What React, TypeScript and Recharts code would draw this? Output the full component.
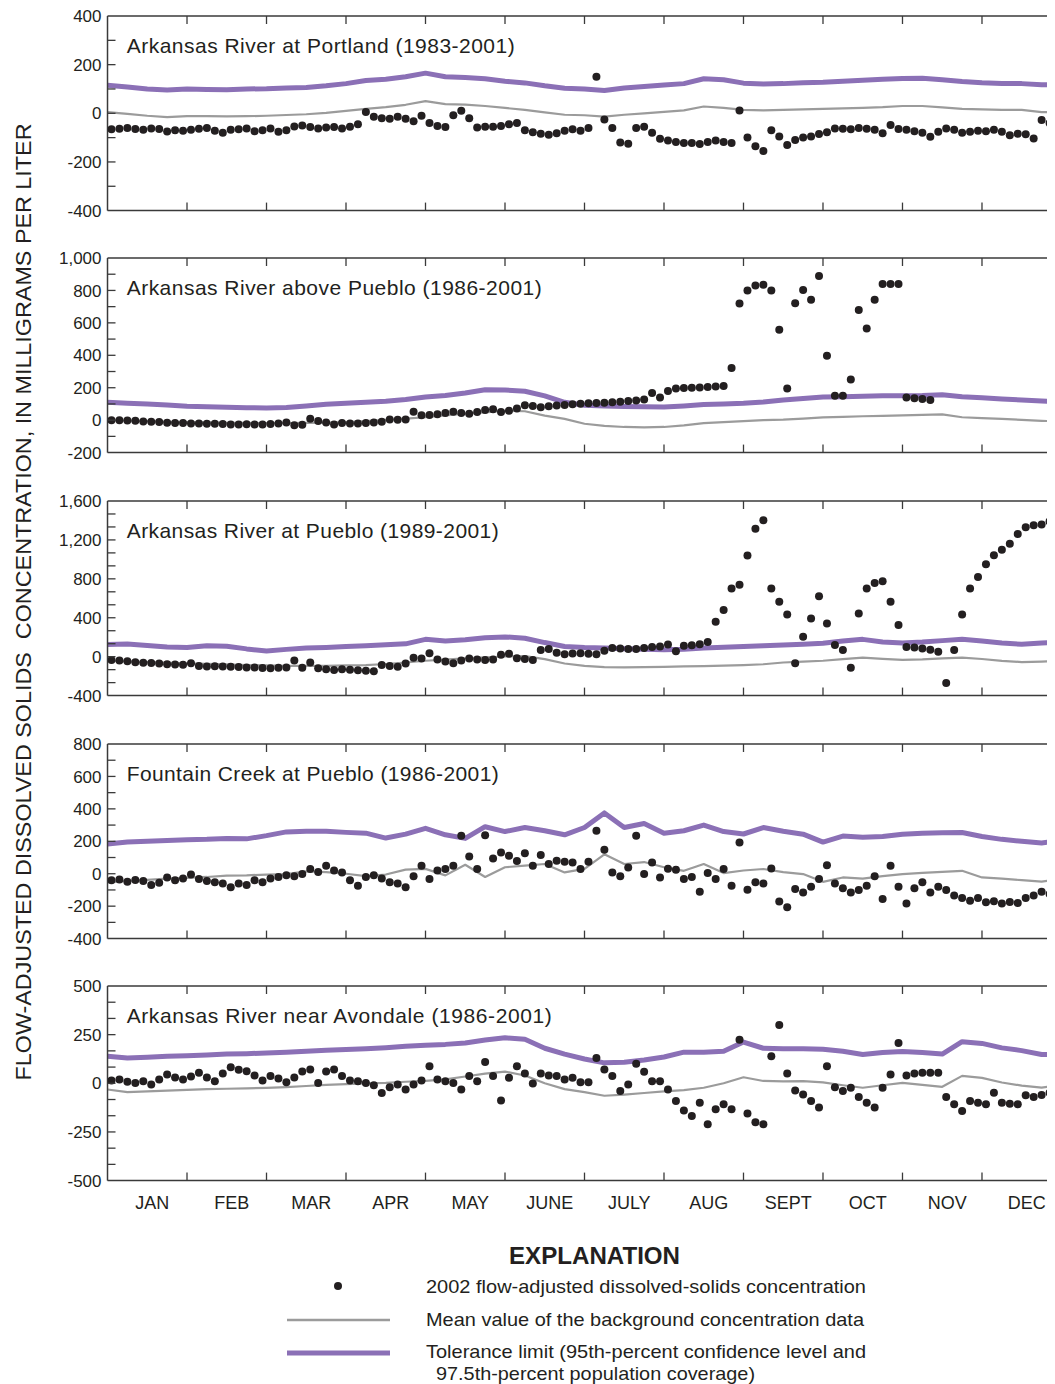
import React from 'react'
import { ComposedChart, Line, Scatter, XAxis, YAxis } from 'recharts'

// x positions are in months from Jan 1 (0) to Dec 31 (12)
const MONTHS = ['JAN', 'FEB', 'MAR', 'APR', 'MAY', 'JUNE', 'JULY', 'AUG', 'SEPT', 'OCT', 'NOV', 'DEC']

// line samples every quarter month, dots every tenth of a month
const portlandTolerance = [115, 108, 100, 96, 100, 98, 97, 100, 101, 104, 106, 113, 122, 135, 140, 150, 165, 150, 147, 142, 132, 125, 113, 103, 100, 94, 104, 110, 116, 122, 142, 138, 124, 120, 122, 126, 128, 132, 136, 140, 143, 144, 138, 131, 126, 123, 122, 117, 119]
const portlandMean = [5, -2, -10, -16, -12, -12, -13, -12, -10, -7, -4, 2, 10, 18, 25, 35, 50, 38, 36, 30, 22, 14, 4, -6, -8, -14, -6, 0, 6, 12, 28, 22, 14, 12, 14, 16, 18, 20, 22, 25, 30, 30, 24, 18, 16, 14, 14, 5, 5]
const portland2002 = [
  -66, -64, -60, -65, -68, -62, -65, -75, -70, -72,
  -68, -64, -60, -72, -80, -68, -66, -62, -74, -70,
  -62, -76, -70, -54, -50, -56, -62, -58, -56, -62,
  -55, -45, 5, -14, -20, -22, -14, -22, -33, -10,
  -40, -52, -56, -8, 10, -20, -58, -55, -55, -52,
  -45, -40, -70, -78, -84, -88, -82, -72, -66, -72,
  -60, 150, -25, -60, -120, -125, -60, -55, -80, -105,
  -112, -118, -122, -122, -126, -118, -112, -118, -122, 12,
  -100, -135, -155, -70, -95, -130, -110, -100, -95, -85,
  -78, -62, -64, -66, -60, -64, -68, -82, -48, -65,
  -68, -74, -80, -96, -76, -62, -68, -80, -76, -72,
  -74, -68, -76, -90, -84, -86, -104, -28, -40, -36,
]

const abovePuebloTolerance = [110, 105, 100, 94, 86, 82, 80, 77, 75, 78, 88, 98, 104, 110, 117, 128, 143, 152, 168, 188, 186, 178, 150, 110, 92, 88, 84, 82, 81, 88, 96, 100, 104, 112, 125, 134, 143, 145, 148, 150, 151, 152, 157, 145, 138, 130, 124, 118, 114]
const abovePuebloMean = [0, -3, -6, -10, -12, -14, -16, -17, -18, -18, -17, -15, -12, -6, 2, 10, 18, 30, 40, 48, 58, 55, 28, 8, -22, -35, -42, -44, -42, -32, -18, -12, -6, 0, 3, 10, 17, 20, 24, 27, 30, 32, 36, 18, 12, 8, 2, -4, -8]
const abovePueblo2002 = [
  0, 0, -2, -4, -8, -10, -12, -16, -18, -18,
  -20, -20, -22, -22, -24, -26, -26, -25, -26, -26,
  -24, -20, -14, -32, -28, 8, -5, -14, -26, -18,
  -20, -20, -18, -14, -10, 4, 2, 4, 52, 30,
  32, 36, 44, 52, 44, 40, 50, 62, 68, 50,
  58, 72, 92, 88, 80, 86, 90, 94, 98, 101,
  104, 106, 108, 110, 114, 118, 122, 128, 167, 140,
  180, 196, 198, 200, 202, 204, 207, 210, 321, 720,
  800, 830, 835, 800, 557, 195, 721, 803, 742, 889,
  397, 151, 151, 250, 680, 565, 742, 840, 840, 840,
  140, 135, 130, 124, null, null, null, null, null, null,
  null, null, null, null, null, null, null, null, null, null,
]

const atPuebloTolerance = [125, 130, 115, 100, 95, 112, 108, 80, 58, 75, 88, 95, 105, 113, 122, 132, 178, 162, 175, 195, 203, 190, 145, 105, 95, 90, 82, 76, 70, 76, 88, 98, 105, 112, 120, 128, 138, 160, 178, 150, 140, 150, 165, 178, 160, 140, 128, 140, 147]
const atPuebloMean = [-40, -48, -55, -62, -68, -75, -80, -86, -90, -94, -95, -94, -90, -86, -75, -60, -42, -30, -18, -6, 2, 5, -25, -70, -95, -108, -110, -108, -104, -100, -98, -92, -86, -78, -60, -50, -42, -25, -10, -22, -32, -28, -18, -10, -24, -44, -55, -50, -45]
const atPueblo2002 = [
  -34, -40, -48, -58, -62, -66, -70, -79, -80, -84,
  -68, -95, -100, -98, -102, -104, -106, -110, -112, -116,
  -118, -114, -112, -40, -115, -60, -120, -128, -137, -130,
  -135, -140, -145, -150, -85, -95, -103, -70, -10, -20,
  34, -30, -50, -68, -40, -20, -30, -34, -28, 20,
  30, -17, -25, -34, 68, 79, 40, 25, 32, 34,
  30, 25, 60, 90, 85, 80, 79, 90, 100, 105,
  125, 55, 112, 118, 127, 150, 360, 480, 700, 740,
  1040, 1316, 1402, 701, 564, 434, -68, 205, 393, 620,
  342, 120, 68, -113, 445, 700, 756, 774, 564, 325,
  100, 95, 85, 70, 51, -270, 68, 434, 701, 820,
  950, 1043, 1100, 1160, 1260, 1330, 1352, 1358, 1390, 1392,
]

const fountainTolerance = [183, 195, 200, 205, 210, 212, 218, 215, 235, 258, 262, 262, 255, 250, 220, 244, 280, 240, 218, 290, 260, 285, 265, 240, 285, 375, 285, 310, 250, 265, 300, 260, 245, 285, 262, 244, 195, 232, 225, 230, 244, 250, 252, 254, 230, 212, 200, 190, 205]
const fountainMean = [-53, -45, -38, -30, -25, -20, -12, -10, -5, -2, 15, 10, 0, -15, -5, 25, 30, -10, 55, -20, 40, 50, 60, 8, 30, 120, 60, 72, 40, 18, 60, 4, 20, 29, 10, -2, -50, -23, -30, -15, -2, 5, 12, 18, -23, -30, -40, -49, -33]
const fountain2002 = [
  -40, -35, -50, -38, -45, -70, -55, -23, -40, -30,
  -4, -33, -45, -53, -60, -84, -60, -70, -40, -53,
  -30, -20, -10, -15, -2, 29, 10, 49, 20, 8,
  -40, -74, -20, -10, -30, -53, -60, -84, -15, 49,
  -33, 20, 29, 49, 234, 107, 29, 238, 94, 131,
  111, 78, 127, 49, 115, 60, 80, 74, 70, 29,
  74, 265, 148, 8, -15, 39, 234, -2, 70, -23,
  30, 25, -33, -20, -111, 4, -33, 29, -74, 193,
  -99, -53, -60, 33, -172, -207, -94, -115, -80, -33,
  53, -60, -90, -115, -100, -74, -15, -156, 49, -80,
  -183, -90, -53, -115, -80, -100, -135, -150, -166, -150,
  -176, -170, -183, -175, -180, -150, -135, -111, -125, -120,
]

const avondaleTolerance = [139, 130, 134, 139, 142, 145, 150, 152, 156, 160, 165, 170, 174, 178, 183, 190, 196, 200, 207, 222, 234, 226, 180, 150, 125, 105, 108, 120, 135, 160, 160, 165, 212, 180, 178, 178, 175, 165, 148, 158, 164, 158, 150, 214, 205, 182, 168, 148, 150]
const avondaleMean = [-32, -45, -42, -38, -34, -30, -28, -26, -24, -20, -14, -8, -4, 0, 2, 8, 12, 20, 35, 50, 60, 40, 0, -30, -45, -64, -58, -50, -42, -35, -23, 0, 31, 12, 10, 11, 5, -10, -23, -10, 2, -8, -18, 38, 28, 4, -12, -22, -10]
const avondale2002 = [
  15, 19, 8, 2, 10, -6, 20, 45, 30, 20,
  35, 54, 30, 11, 50, 82, 70, 62, 40, 15,
  37, 25, 6, 30, 60, 71, 2, 60, 71, 37,
  15, 11, 2, -10, -50, -20, -6, -32, -6, 15,
  88, 20, 10, 2, -32, 37, 10, 110, 37, -88,
  28, 88, 50, -1, 50, 40, 37, 20, 28, 6,
  6, 130, 71, 37, -40, -6, 100, 59, 11, 11,
  -32, -91, -140, -168, -100, -210, -133, -108, -133, 224,
  -155, -200, -210, 139, 300, 50, -37, -57, -91, -125,
  88, -20, -40, -23, -70, -100, -125, -23, 45, 207,
  40, 50, 54, 54, 54, -71, -108, -142, -91, -100,
  -108, -49, -100, -105, -108, -62, -70, -60, -49, -45,
]

const PANELS = [
  { title: 'Arkansas River at Portland (1983-2001)', titleWidth: 388, min: -400, max: 400, minor: 100, major: 200, tol: portlandTolerance, mean: portlandMean, dots: portland2002 },
  { title: 'Arkansas River above Pueblo (1986-2001)', titleWidth: 415, min: -200, max: 1000, minor: 100, major: 200, tol: abovePuebloTolerance, mean: abovePuebloMean, dots: abovePueblo2002 },
  { title: 'Arkansas River at Pueblo (1989-2001)', titleWidth: 372, min: -400, max: 1600, minor: 400 / 3, major: 400, tol: atPuebloTolerance, mean: atPuebloMean, dots: atPueblo2002 },
  { title: 'Fountain Creek at Pueblo (1986-2001)', titleWidth: 372, min: -400, max: 800, minor: 100, major: 200, tol: fountainTolerance, mean: fountainMean, dots: fountain2002 },
  { title: 'Arkansas River near Avondale (1986-2001)', titleWidth: 425, min: -500, max: 500, minor: 250 / 3, major: 250, tol: avondaleTolerance, mean: avondaleMean, dots: avondale2002 },
]

const PURPLE = '#8b70b6'
const GRAY = '#9b9b9b'
const INK = '#231f20'
const FRAME = '#3a3a3a'
const FONT = "'Liberation Sans', Arial, Helvetica, sans-serif"

const PLOT_LEFT = 107.5 // page px
const PLOT_W = 954
const PLOT_H = 194.6
const FIRST_TOP = 15.7
const PITCH = 242.6
const TOP_AXIS_H = 10
const BOTTOM_AXIS_H = 40
const Y_AXIS_W = 60
const CHART_W = PLOT_LEFT - 8 + PLOT_W + 10
const CHART_H = TOP_AXIS_H + PLOT_H + BOTTOM_AXIS_H

const toLine = (vals: number[]) => vals.map((y, k) => ({ x: k * 0.25, y }))
const toDots = (vals: (number | null)[]) =>
  vals.map((y, i) => ({ x: (i + 0.5) / 10, y })).filter((d) => d.y !== null)

const monthBounds = [1, 2, 3, 4, 5, 6, 7, 8, 9, 10, 11]
const bottomTicks = [0.5, 1, 1.5, 2, 2.5, 3, 3.5, 4, 4.5, 5, 5.5, 6, 6.5, 7, 7.5, 8, 8.5, 9, 9.5, 10, 10.5, 11, 11.5]

const axisLine = { stroke: FRAME, strokeWidth: 1.5 }

function Panel({ cfg, index }: { cfg: (typeof PANELS)[number]; index: number }) {
  const top = FIRST_TOP + PITCH * index
  const showMonths = index === PANELS.length - 1
  const yTicks: number[] = []
  const n = Math.round((cfg.max - cfg.min) / cfg.minor)
  for (let j = 0; j <= n; j++) yTicks.push(cfg.min + cfg.minor * j)

  const isMajor = (v: number) => Math.abs(v / cfg.major - Math.round(v / cfg.major)) < 1e-6

  const leftTick = (p: any) => {
    const v = p.payload.value
    return (
      <g>
        {v > cfg.min && v < cfg.max && <line x1={p.x} x2={p.x + 8} y1={p.y} y2={p.y} stroke={FRAME} strokeWidth={1.3} />}
        {isMajor(v) && (
          <text x={p.x - 6} y={p.y} dy="0.36em" textAnchor="end" fontSize={17} fontFamily={FONT} fill={INK}>
            {Math.round(v).toLocaleString('en-US')}
          </text>
        )}
      </g>
    )
  }
  const rightTick = (p: any) => {
    const v = p.payload.value
    if (v <= cfg.min || v >= cfg.max) return <g />
    return <line x1={p.x - 8} x2={p.x} y1={p.y} y2={p.y} stroke={FRAME} strokeWidth={1.3} />
  }
  const topTick = (p: any) => <line x1={p.x} x2={p.x} y1={p.y} y2={p.y + 8} stroke={FRAME} strokeWidth={1.3} />
  const bottomTick = (p: any) => {
    const v = p.payload.value
    if (Number.isInteger(v)) return <line x1={p.x} x2={p.x} y1={p.y - 8} y2={p.y} stroke={FRAME} strokeWidth={1.3} />
    if (!showMonths) return <g />
    return (
      <text x={p.x + 5} y={p.y + 28} textAnchor="middle" fontSize={18} fontFamily={FONT} fill={INK}>
        {MONTHS[Math.floor(v)]}
      </text>
    )
  }

  return (
    <div style={{ position: 'absolute', left: 0, top: top - 8 - TOP_AXIS_H }}>
      <ComposedChart width={CHART_W} height={CHART_H} margin={{ top: 0, right: 0, bottom: 0, left: PLOT_LEFT - 8 - Y_AXIS_W }}>
        <XAxis xAxisId="bottom" type="number" dataKey="x" domain={[0, 12]} allowDataOverflow ticks={bottomTicks} interval={0}
          tickSize={0} tickMargin={0} tickLine={false} axisLine={axisLine} height={BOTTOM_AXIS_H} tick={bottomTick} />
        <XAxis xAxisId="top" orientation="top" type="number" dataKey="x" domain={[0, 12]} allowDataOverflow ticks={monthBounds} interval={0}
          tickSize={0} tickMargin={0} tickLine={false} axisLine={axisLine} height={TOP_AXIS_H} tick={topTick} />
        <YAxis yAxisId="left" type="number" domain={[cfg.min, cfg.max]} allowDataOverflow ticks={yTicks} interval={0}
          tickSize={0} tickMargin={0} tickLine={false} axisLine={axisLine} width={Y_AXIS_W} tick={leftTick} />
        <YAxis yAxisId="right" orientation="right" type="number" domain={[cfg.min, cfg.max]} allowDataOverflow ticks={yTicks} interval={0}
          tickSize={0} tickMargin={0} tickLine={false} axisLine={axisLine} width={10} tick={rightTick} />
        <Line xAxisId="bottom" yAxisId="left" data={toLine(cfg.tol)} dataKey="y" stroke={PURPLE} strokeWidth={5}
          dot={false} isAnimationActive={false} strokeLinejoin="round" />
        <Line xAxisId="bottom" yAxisId="left" data={toLine(cfg.mean)} dataKey="y" stroke={GRAY} strokeWidth={2.2}
          dot={false} isAnimationActive={false} strokeLinejoin="round" />
        <Scatter xAxisId="bottom" yAxisId="left" data={toDots(cfg.dots)} dataKey="y" isAnimationActive={false}
          shape={(p: any) => (Number.isFinite(p.cx) && Number.isFinite(p.cy) ? <circle cx={p.cx} cy={p.cy} r={4} fill={INK} /> : <g />)} />
      </ComposedChart>
    </div>
  )
}

export default function App() {
  return (
    <div style={{ position: 'relative', width: 1047, height: 1376, overflow: 'hidden', background: '#fff' }}>
      {PANELS.map((cfg, i) => (
        <Panel key={cfg.title} cfg={cfg} index={i} />
      ))}
      <svg width={1047} height={1376} style={{ position: 'absolute', left: 0, top: 0, pointerEvents: 'none' }} fontFamily={FONT}>
        {PANELS.map((cfg, i) => (
          <text key={cfg.title} x={118.7} y={FIRST_TOP + PITCH * i + 37 - 8} fontSize={21} fill={INK} textLength={cfg.titleWidth}>
            {cfg.title}
          </text>
        ))}
        <text transform="translate(23,594) rotate(-90)" textAnchor="middle" fontSize={22} fill={INK} textLength={957}
          lengthAdjust="spacingAndGlyphs" style={{ whiteSpace: 'pre' }}>
          {'FLOW-ADJUSTED DISSOLVED SOLIDS  CONCENTRATION, IN MILLIGRAMS PER LITER'}
        </text>

        {/* explanation */}
        <text x={586.5} y={1256} textAnchor="middle" fontSize={23} fontWeight="bold" fill={INK} textLength={171} lengthAdjust="spacingAndGlyphs">
          EXPLANATION
        </text>
        <circle cx={330} cy={1278} r={4} fill={INK} />
        <line x1={279} x2={382} y1={1312} y2={1312} stroke={GRAY} strokeWidth={2.5} />
        <line x1={279} x2={382} y1={1345} y2={1345} stroke={PURPLE} strokeWidth={5} />
        <text x={418} y={1285} fontSize={19} fill={INK} textLength={440} lengthAdjust="spacingAndGlyphs">
          2002 flow-adjusted dissolved-solids concentration
        </text>
        <text x={418} y={1318} fontSize={19} fill={INK} textLength={438} lengthAdjust="spacingAndGlyphs">
          Mean value of the background concentration data
        </text>
        <text x={418} y={1350} fontSize={19} fill={INK} textLength={440} lengthAdjust="spacingAndGlyphs">
          Tolerance limit (95th-percent confidence level and
        </text>
        <text x={428} y={1372} fontSize={19} fill={INK} textLength={319} lengthAdjust="spacingAndGlyphs">
          97.5th-percent population coverage)
        </text>
      </svg>
    </div>
  )
}
